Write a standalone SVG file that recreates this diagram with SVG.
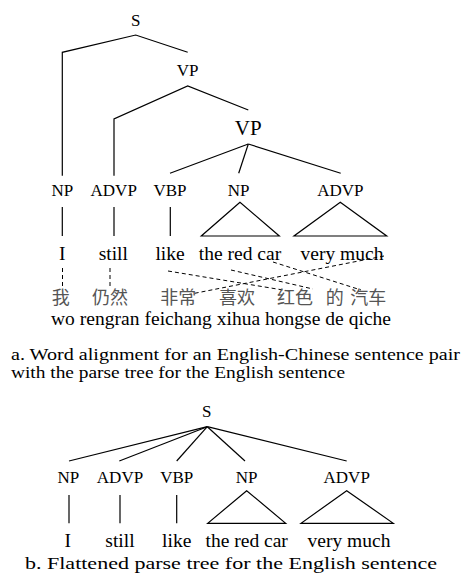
<svg xmlns="http://www.w3.org/2000/svg" width="461" height="579" viewBox="0 0 461 579">
<style>
.t{font-family:'Liberation Serif','DejaVu Serif',serif;fill:#000}
.lab{font-size:17px;text-anchor:middle}
.big{font-size:21px;text-anchor:middle}
.wd{font-size:19.5px;text-anchor:middle}
.zh{font-family:'Noto Sans CJK SC','Noto Sans CJK JP',sans-serif;font-size:18px;text-anchor:middle;fill:#555}
.cap{font-size:16px}
.capb{font-size:17px}
.e{stroke:#000;stroke-width:1.2;fill:none}
.d{stroke:#000;stroke-width:1;fill:none;stroke-dasharray:4 3}
</style>
<rect width="461" height="579" fill="#fff"/>
<g id="connectors">
<polyline class="e" points="62.3,175.7 62.3,52.3 135.7,35 187.7,52.3"/>
<polyline class="e" points="114,175.7 114,119 187.7,86 248.3,110"/>
<line class="e" x1="248.3" y1="144" x2="170" y2="173.3"/>
<line class="e" x1="248.3" y1="144" x2="238.7" y2="173.3"/>
<line class="e" x1="248.3" y1="144" x2="340.7" y2="173.3"/>
<line class="e" x1="62.3" y1="207" x2="62.3" y2="236"/>
<line class="e" x1="114" y1="207" x2="114" y2="236"/>
<line class="e" x1="170.3" y1="207" x2="170.3" y2="236"/>
<polygon class="e" points="240,202.3 201.3,236 279.3,236"/>
<polygon class="e" points="340.3,202.3 294,236 386.7,236"/>
<line class="d" x1="62.5" y1="268" x2="62.5" y2="287"/>
<line class="d" x1="110" y1="268" x2="110" y2="287"/>
<line class="d" x1="168" y1="271" x2="289" y2="291"/>
<line class="d" x1="231" y1="270" x2="313" y2="289"/>
<line class="d" x1="273" y1="262" x2="361" y2="290"/>
<line class="d" x1="384" y1="256" x2="186" y2="295"/>
<line class="e" x1="207.3" y1="426.7" x2="69" y2="461"/>
<line class="e" x1="207.3" y1="426.7" x2="119.3" y2="461"/>
<line class="e" x1="207.3" y1="426.7" x2="176.7" y2="461"/>
<line class="e" x1="207.3" y1="426.7" x2="245" y2="461"/>
<line class="e" x1="207.3" y1="426.7" x2="346.7" y2="461"/>
<line class="e" x1="69" y1="495" x2="69" y2="523.3"/>
<line class="e" x1="120" y1="495" x2="120" y2="523.3"/>
<line class="e" x1="176.7" y1="495" x2="176.7" y2="523.3"/>
<polygon class="e" points="246.7,490.7 207.7,523.3 285.7,523.3"/>
<polygon class="e" points="346.7,490.7 301,523.3 393.3,523.3"/>
</g>
<g id="a-S"><text class="t lab" x="135.7" y="25.5">S</text></g>
<g id="a-VP1"><text class="t lab" x="187.7" y="76">VP</text></g>
<g id="a-VP2"><text class="t big" x="248.3" y="135">VP</text></g>
<g id="a-NP"><text class="t lab" x="62.3" y="195.5">NP</text></g>
<g id="a-ADVP"><text class="t lab" x="113.7" y="195.5">ADVP</text></g>
<g id="a-VBP"><text class="t lab" x="170" y="195.5">VBP</text></g>
<g id="a-NP2"><text class="t lab" x="238.7" y="195.5">NP</text></g>
<g id="a-ADVP2"><text class="t lab" x="340.3" y="195.5">ADVP</text></g>
<g id="a-words">
<text class="t wd" x="62.3" y="259.5">I</text>
<text class="t wd" x="113.3" y="259.5">still</text>
<text class="t wd" x="170" y="259.5">like</text>
<text class="t wd" x="240" y="259.5">the red car</text>
<text class="t wd" x="342" y="259.5">very much</text>
</g>
<g id="a-chinese">
<text class="zh" x="60.7" y="304">我</text>
<text class="zh" x="110" y="304">仍然</text>
<text class="zh" x="178.3" y="304">非常</text>
<text class="zh" x="237" y="304">喜欢</text>
<text class="zh" x="295" y="304">红色</text>
<text class="zh" x="334.7" y="304">的</text>
<text class="zh" x="368.3" y="304">汽车</text>
</g>
<g id="a-pinyin"><text class="t wd" x="51" y="324.5" style="text-anchor:start" textLength="340">wo rengran feichang xihua hongse de qiche</text></g>
<g id="caption-a">
<text class="t cap" x="11" y="360" textLength="449" lengthAdjust="spacingAndGlyphs">a. Word alignment for an English-Chinese sentence pair</text>
<text class="t cap" x="11" y="378" textLength="334" lengthAdjust="spacingAndGlyphs">with the parse tree for the English sentence</text>
</g>
<g id="b-S"><text class="t lab" x="206.7" y="416.7">S</text></g>
<g id="b-NP"><text class="t lab" x="68.3" y="482.7">NP</text></g>
<g id="b-ADVP"><text class="t lab" x="120" y="482.7">ADVP</text></g>
<g id="b-VBP"><text class="t lab" x="176.7" y="482.7">VBP</text></g>
<g id="b-NP2"><text class="t lab" x="246.7" y="482.7">NP</text></g>
<g id="b-ADVP2"><text class="t lab" x="346.7" y="482.7">ADVP</text></g>
<g id="b-words">
<text class="t wd" x="67.7" y="546.7">I</text>
<text class="t wd" x="120" y="546.7">still</text>
<text class="t wd" x="176.7" y="546.7">like</text>
<text class="t wd" x="246.7" y="546.7">the red car</text>
<text class="t wd" x="349" y="546.7">very much</text>
</g>
<g id="caption-b"><text class="t capb" x="25" y="569" textLength="412" lengthAdjust="spacingAndGlyphs">b. Flattened parse tree for the English sentence</text></g>
</svg>
